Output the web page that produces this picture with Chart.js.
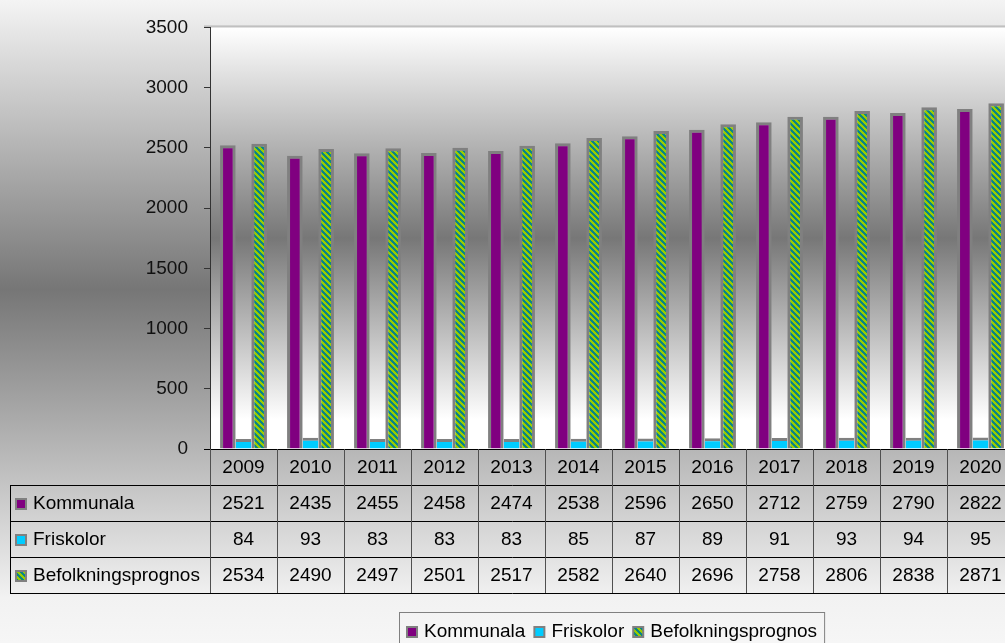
<!DOCTYPE html>
<html lang="sv">
<head>
<meta charset="UTF-8">
<title>Elever</title>
<script src="https://cdn.jsdelivr.net/npm/chart.js@4.4.1/dist/chart.umd.min.js"></script>
<style>
    html, body { margin: 0; padding: 0; overflow: hidden; background: #f2f2f2; }
    #wrap { width: 1015px; height: 643px; }
</style>
</head>
<body>
<div id="wrap"><canvas id="myChart" width="1015" height="643"></canvas></div>
<script>
    var years = ['2009', '2010', '2011', '2012', '2013', '2014', '2015', '2016', '2017', '2018', '2019', '2020'];
    var kommunala = [2521, 2435, 2455, 2458, 2474, 2538, 2596, 2650, 2712, 2759, 2790, 2822];
    var friskolor = [84, 93, 83, 83, 83, 85, 87, 89, 91, 93, 94, 95];
    var prognos = [2534, 2490, 2497, 2501, 2517, 2582, 2640, 2696, 2758, 2806, 2838, 2871];
    var seriesNames = ['Kommunala', 'Friskolor', 'Befolkningsprognos'];
    var yMax = 3500, yStep = 500;

    var FAMILY = '"Liberation Sans", Arial, sans-serif';
    var FONT = '19px ' + FAMILY;
    var ctx = document.getElementById('myChart').getContext('2d');

    // diagonal stripes like the excel pattern fill
    function stripes() {
        var c = document.createElement('canvas');
        c.width = 6; c.height = 6;
        var g = c.getContext('2d');
        for (var y = 0; y < 6; y++) {
            for (var x = 0; x < 6; x++) {
                g.fillStyle = ((x - y + 12) % 6) < 3 ? '#0a8585' : '#99cc00';
                g.fillRect(x, y, 1, 1);
            }
        }
        return ctx.createPattern(c, 'repeat');
    }
    var fills = ['#800080', '#00ccff', stripes()];

    function drawKey(c, x, y, fill) {
        c.fillStyle = '#808080';
        c.fillRect(x, y, 12, 12);
        c.fillStyle = fill;
        c.fillRect(x + 2, y + 2, 8, 8);
    }

    var decor = {
        id: 'decor',
        beforeDraw: function (chart) {
            var c = chart.ctx, a = chart.chartArea;
            var bg = c.createLinearGradient(0, 0, 0, chart.height);
            bg.addColorStop(0, '#f4f4f4');
            bg.addColorStop(0.45, '#767676');
            bg.addColorStop(0.93, '#f2f2f2');
            bg.addColorStop(1, '#f6f6f6');
            c.fillStyle = bg;
            c.fillRect(0, 0, chart.width, chart.height);

            var pg = c.createLinearGradient(0, a.top, 0, a.bottom);
            pg.addColorStop(0, '#ffffff');
            pg.addColorStop(0.5, '#777777');
            pg.addColorStop(0.93, '#ffffff');
            pg.addColorStop(1, '#ffffff');
            c.fillStyle = pg;
            c.fillRect(a.left, a.top, a.right - a.left, a.bottom - a.top);

            c.fillStyle = '#c0c0c0';
            c.fillRect(a.left - 6, a.top - 2, a.right - a.left + 6, 2);
        },
        afterDraw: function (chart) {
            var c = chart.ctx, a = chart.chartArea, xs = chart.scales.x;
            var colW = xs.width / years.length;
            var rowH = 36;
            var top = a.bottom;
            var bottom = top + rowH * 4;
            var tableLeft = 10;

            c.save();
            // horizontal lines
            c.strokeStyle = '#000';
            c.lineWidth = 1;
            c.beginPath();
            c.moveTo(a.left - 6, top + 0.5);
            c.lineTo(chart.width, top + 0.5);
            for (var r = 1; r <= 4; r++) {
                c.moveTo(tableLeft, top + r * rowH + 0.5);
                c.lineTo(chart.width, top + r * rowH + 0.5);
            }
            c.moveTo(tableLeft + 0.5, top + rowH);
            c.lineTo(tableLeft + 0.5, bottom);
            c.stroke();

            // column separators
            c.strokeStyle = '#505050';
            c.beginPath();
            for (var i = 0; i <= years.length; i++) {
                var vx = Math.round(a.left + i * colW) + 0.5;
                c.moveTo(vx, top);
                c.lineTo(vx, bottom);
            }
            c.stroke();

            // cell text
            c.font = FONT;
            c.fillStyle = '#000';
            c.textAlign = 'center';
            c.textBaseline = 'middle';
            var rows = [years, kommunala, friskolor, prognos];
            for (var r = 0; r < rows.length; r++) {
                for (var i = 0; i < years.length; i++) {
                    c.fillText(String(rows[r][i]), xs.getPixelForValue(i), top + r * rowH + rowH / 2 + 1);
                }
            }

            // row headers
            c.textAlign = 'left';
            for (var s = 0; s < seriesNames.length; s++) {
                var cy = top + (s + 1) * rowH + rowH / 2;
                drawKey(c, 15, cy - 5, fills[s]);
                c.fillStyle = '#000';
                c.fillText(seriesNames[s], 33, cy + 1);
            }

            // legend under the plot
            var widths = seriesNames.map(function (n) { return c.measureText(n).width; });
            var itemW = widths.map(function (w) { return 12 + 6 + w; });
            var gap = 8;
            var total = 7 + itemW.reduce(function (p, v) { return p + v; }, 0) + gap * (itemW.length - 1) + 7;
            var boxX = Math.round((a.left + a.right) / 2 - total / 2);
            var boxY = 612;
            c.strokeStyle = '#808080';
            c.strokeRect(boxX + 0.5, boxY + 0.5, total, 60);
            var lx = boxX + 7;
            for (var s = 0; s < seriesNames.length; s++) {
                drawKey(c, lx, boxY + 14, fills[s]);
                c.fillStyle = '#000';
                c.fillText(seriesNames[s], lx + 18, boxY + 20);
                lx += itemW[s] + gap;
            }
            c.restore();
        }
    };

    var myChart = new Chart(ctx, {
        type: 'bar',
        data: {
            labels: years,
            datasets: [
                { label: seriesNames[0], data: kommunala, backgroundColor: fills[0] },
                { label: seriesNames[1], data: friskolor, backgroundColor: fills[1],
                  borderWidth: { top: 3, left: 0, right: 0, bottom: 0 } },
                { label: seriesNames[2], data: prognos, backgroundColor: fills[2] }
            ]
        },
        options: {
            responsive: false,
            animation: false,
            layout: { padding: { top: 23, bottom: 194, left: 0, right: 1 } },
            datasets: {
                bar: {
                    categoryPercentage: 0.7,
                    barPercentage: 1.0,
                    borderWidth: 3,
                    borderColor: '#808080',
                    inflateAmount: 0
                }
            },
            plugins: {
                legend: { display: false },
                tooltip: { enabled: false }
            },
            scales: {
                x: { display: false },
                y: {
                    min: 0,
                    max: yMax,
                    afterFit: function (scale) { scale.width = 210; },
                    ticks: {
                        stepSize: yStep,
                        padding: 16,
                        color: '#111',
                        font: { family: FAMILY, size: 19 },
                        callback: function (v) { return String(v); }
                    },
                    grid: {
                        drawOnChartArea: false,
                        drawTicks: true,
                        tickLength: 6,
                        color: '#333'
                    },
                    border: { color: '#333', width: 1 }
                }
            }
        },
        plugins: [decor]
    });
</script>
</body>
</html>
